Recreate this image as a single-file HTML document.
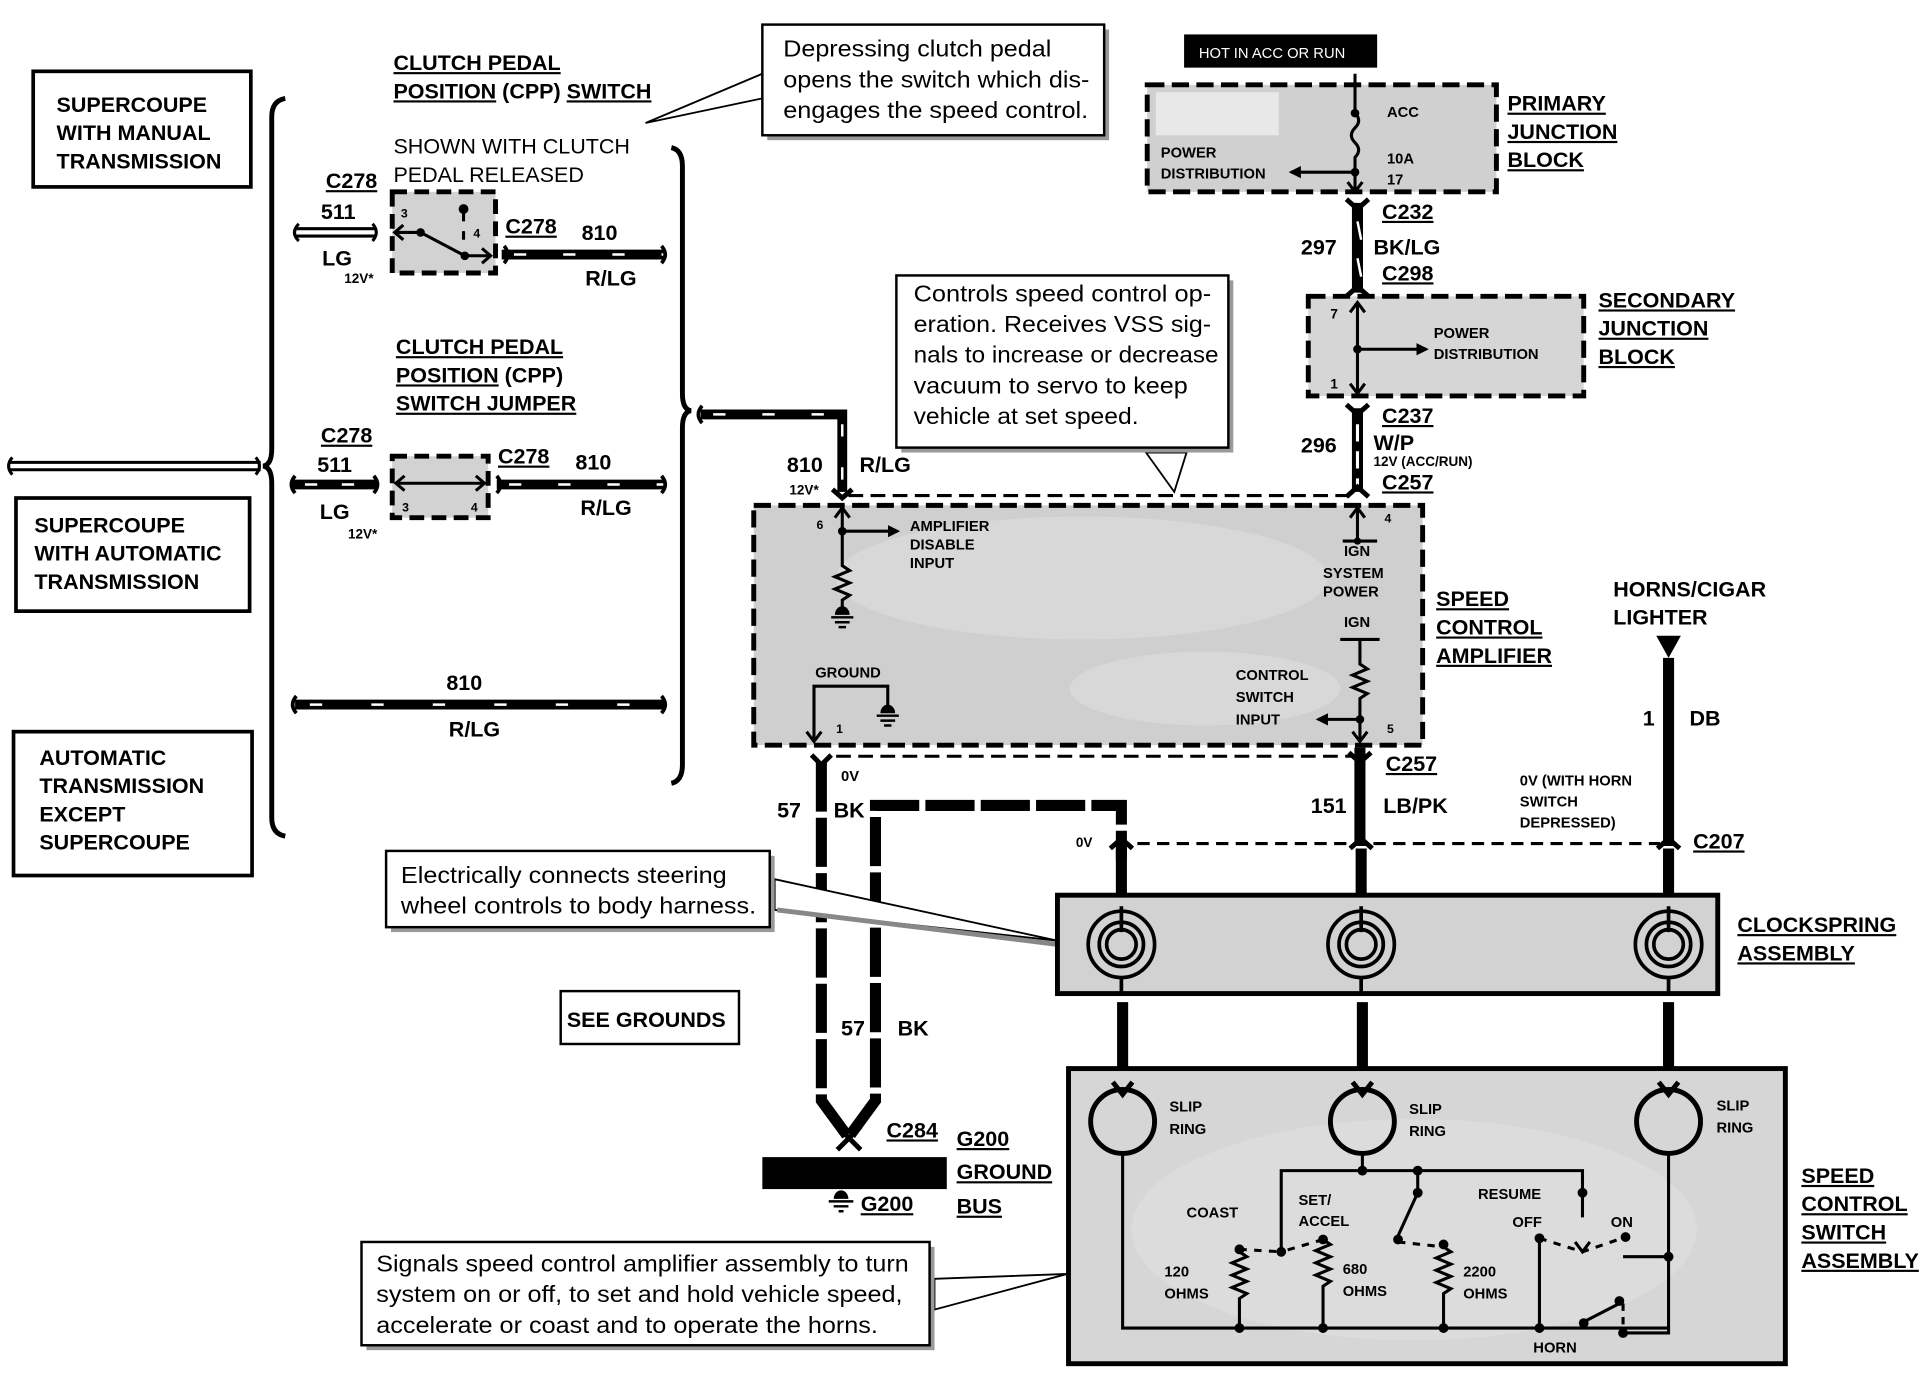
<!DOCTYPE html>
<html><head><meta charset="utf-8"><style>
html,body{margin:0;padding:0;background:#fff;}
svg{display:block}
text{font-family:"Liberation Sans",Arial,sans-serif;font-weight:bold;fill:#000}
.n{font-weight:normal}
.u{text-decoration:underline}
</style></head><body>
<svg width="1928" height="1376" viewBox="0 0 1568 1119" preserveAspectRatio="none" xmlns="http://www.w3.org/2000/svg">
<defs>
<marker id="ar" markerWidth="10" markerHeight="10" refX="8" refY="5" orient="auto" markerUnits="userSpaceOnUse"><path d="M0,0 L10,5 L0,10 Z" fill="#000"/></marker>
</defs>
<rect width="1568" height="1119" fill="#fff"/>

<!-- left boxes -->
<rect x="27" y="58" width="177" height="94" fill="#fff" stroke="#000" stroke-width="3"/>
<text x="46" y="91" font-size="17.5">SUPERCOUPE</text>
<text x="46" y="114" font-size="17.5">WITH MANUAL</text>
<text x="46" y="137" font-size="17.5">TRANSMISSION</text>
<rect x="13" y="405" width="190" height="92" fill="#fff" stroke="#000" stroke-width="3"/>
<text x="28" y="433" font-size="17.5">SUPERCOUPE</text>
<text x="28" y="456" font-size="17.5">WITH AUTOMATIC</text>
<text x="28" y="479" font-size="17.5">TRANSMISSION</text>
<rect x="11" y="595" width="194" height="117" fill="#fff" stroke="#000" stroke-width="3"/>
<text x="32" y="622" font-size="17.5">AUTOMATIC</text>
<text x="32" y="645" font-size="17.5">TRANSMISSION</text>
<text x="32" y="668" font-size="17.5">EXCEPT</text>
<text x="32" y="691" font-size="17.5">SUPERCOUPE</text>

<path d="M8,376 L212,376 M8,382 L212,382" stroke="#000" stroke-width="2.5"/>
<path d="M10,372 q-6,7 0,14 M208,372 q6,7 0,14" stroke="#000" stroke-width="2.5" fill="none"/>
<path d="M232,80 Q221,82 221,95 L221,365 Q221,378 214,379 Q221,380 221,393 L221,665 Q221,678 232,680" fill="none" stroke="#000" stroke-width="4"/>
<path d="M546,120 Q555,122 555,135 L555,320 Q555,333 562,334 Q555,335 555,348 L555,622 Q555,635 546,637" fill="none" stroke="#000" stroke-width="4"/>

<text x="320" y="57" font-size="17.5" class="u">CLUTCH PEDAL</text>
<text x="320" y="80" font-size="17.5"><tspan class="u">POSITION</tspan> (CPP) <tspan class="u">SWITCH</tspan></text>
<text x="320" y="125" font-size="17.5" class="n">SHOWN WITH CLUTCH</text>
<text x="320" y="148" font-size="17.5" class="n">PEDAL RELEASED</text>
<text x="322" y="288" font-size="17.5" class="u">CLUTCH PEDAL</text>
<text x="322" y="311" font-size="17.5"><tspan class="u">POSITION</tspan> (CPP)</text>
<text x="322" y="334" font-size="17.5" class="u">SWITCH JUMPER</text>

<text x="265" y="153" font-size="17.5" class="u">C278</text>
<text x="261" y="178" font-size="17.5">511</text>
<text x="262" y="216" font-size="17.5">LG</text>
<text x="280" y="230" font-size="11">12V*</text>
<path d="M240,186 L306,186 M240,192 L306,192" stroke="#000" stroke-width="2.5"/>
<path d="M243,182 q-7,7 0,14 M303,182 q6,7 0,14" stroke="#000" stroke-width="2.5" fill="none"/>
<rect x="319" y="156" width="84" height="66" fill="#d2d2d2" stroke="#000" stroke-width="4" stroke-dasharray="12 6"/>
<text x="326" y="177" font-size="10">3</text><text x="385" y="193" font-size="10">4</text>
<path d="M322,189 L342,189 L378,208 L398,208" stroke="#000" stroke-width="2.5" fill="none"/>
<path d="M328,183 L321,189 L328,195" stroke="#000" stroke-width="2.5" fill="none"/>
<path d="M392,202 L399,208 L392,214" stroke="#000" stroke-width="2.5" fill="none"/>
<circle cx="342" cy="189" r="3.5"/><circle cx="378" cy="208" r="3.5"/><circle cx="377" cy="170" r="4"/>
<path d="M377,170 L377,180 M377,188 L377,195" stroke="#000" stroke-width="2.5"/>
<text x="411" y="190" font-size="17.5" class="u">C278</text>
<text x="473" y="195" font-size="17.5">810</text>
<text x="476" y="232" font-size="17.5">R/LG</text>
<path d="M408,207 L540,207" stroke="#000" stroke-width="8"/><path d="M418,207 L540,207" stroke="#fff" stroke-width="2" stroke-dasharray="10 30"/>
<path d="M410,200 q6,7 0,14 M538,200 q6,7 0,14" stroke="#000" stroke-width="3" fill="none"/>

<text x="261" y="360" font-size="17.5" class="u">C278</text>
<text x="258" y="384" font-size="17.5">511</text>
<text x="260" y="422" font-size="17.5">LG</text>
<text x="283" y="438" font-size="11">12V*</text>
<path d="M238,394 L306,394" stroke="#000" stroke-width="8"/><path d="M248,394 L306,394" stroke="#fff" stroke-width="2" stroke-dasharray="10 20"/>
<path d="M240,387 q-6,7 0,14 M304,387 q6,7 0,14" stroke="#000" stroke-width="3" fill="none"/>
<rect x="319" y="371" width="78" height="50" fill="#d2d2d2" stroke="#000" stroke-width="4" stroke-dasharray="12 6"/>
<path d="M322,393 L394,393" stroke="#000" stroke-width="2.5"/>
<path d="M329,387 L322,393 L329,399 M387,387 L394,393 L387,399" stroke="#000" stroke-width="2.5" fill="none"/>
<text x="327" y="416" font-size="10">3</text><text x="383" y="416" font-size="10">4</text>
<text x="405" y="377" font-size="17.5" class="u">C278</text>
<text x="468" y="382" font-size="17.5">810</text>
<text x="472" y="419" font-size="17.5">R/LG</text>
<path d="M404,394 L540,394" stroke="#000" stroke-width="8"/><path d="M414,394 L540,394" stroke="#fff" stroke-width="2" stroke-dasharray="10 30"/>
<path d="M404,387 q6,7 0,14 M538,387 q6,7 0,14" stroke="#000" stroke-width="3" fill="none"/>

<text x="363" y="561" font-size="17.5">810</text>
<text x="365" y="599" font-size="17.5">R/LG</text>
<path d="M240,573 L540,573" stroke="#000" stroke-width="8"/><path d="M252,573 L540,573" stroke="#fff" stroke-width="2" stroke-dasharray="10 40"/>
<path d="M241,566 q-6,7 0,14 M538,566 q6,7 0,14" stroke="#000" stroke-width="3" fill="none"/>

<path d="M570,337 L685,337 L685,400" stroke="#000" stroke-width="8" fill="none"/>
<path d="M580,337 L680,337" stroke="#fff" stroke-width="2" stroke-dasharray="10 30"/>
<path d="M685,345 L685,395" stroke="#fff" stroke-width="2" stroke-dasharray="10 25"/>
<path d="M571,330 q-6,7 0,14" stroke="#000" stroke-width="3" fill="none"/>
<path d="M677,398 L685,405 L693,398" stroke="#000" stroke-width="4" fill="none"/>
<text x="640" y="384" font-size="17.5">810</text>
<text x="642" y="402" font-size="11">12V*</text>
<text x="699" y="384" font-size="17.5">R/LG</text>

<!-- callout 1 -->
<polygon points="620,60 525,100 620,80" fill="#fff" stroke="#000" stroke-width="1.5"/>
<rect x="624" y="24" width="278" height="90" fill="#999"/>
<rect x="620" y="20" width="278" height="90" fill="#fff" stroke="#000" stroke-width="2"/>
<text x="637" y="46" font-size="18.5" class="n" textLength="218" lengthAdjust="spacingAndGlyphs">Depressing clutch pedal</text>
<text x="637" y="71" font-size="18.5" class="n" textLength="249" lengthAdjust="spacingAndGlyphs">opens the switch which dis-</text>
<text x="637" y="96" font-size="18.5" class="n" textLength="248" lengthAdjust="spacingAndGlyphs">engages the speed control.</text>

<!-- callout 2 -->
<polygon points="932,368 955,400 965,368" fill="#fff" stroke="#000" stroke-width="1.5"/>
<rect x="733" y="228" width="270" height="140" fill="#999"/>
<rect x="729" y="224" width="270" height="140" fill="#fff" stroke="#000" stroke-width="2"/>
<text x="743" y="245" font-size="18.5" class="n" textLength="242" lengthAdjust="spacingAndGlyphs">Controls speed control op-</text>
<text x="743" y="270" font-size="18.5" class="n" textLength="242" lengthAdjust="spacingAndGlyphs">eration.  Receives VSS sig-</text>
<text x="743" y="295" font-size="18.5" class="n" textLength="248" lengthAdjust="spacingAndGlyphs">nals to increase or decrease</text>
<text x="743" y="320" font-size="18.5" class="n" textLength="223" lengthAdjust="spacingAndGlyphs">vacuum to servo to keep</text>
<text x="743" y="345" font-size="18.5" class="n" textLength="183" lengthAdjust="spacingAndGlyphs">vehicle at set speed.</text>

<rect x="963" y="28" width="157" height="27" fill="#000"/>
<text x="975" y="47" font-size="12" class="n" style="fill:#fff">HOT IN ACC OR RUN</text>

<!-- primary junction block -->
<rect x="933" y="69" width="284" height="87" fill="#d0d0d0" stroke="#000" stroke-width="4" stroke-dasharray="14 6"/>
<rect x="940" y="75" width="100" height="35" fill="#e8e8e8"/>
<path d="M1102,60 L1102,92 q6,6 0,12 q-6,6 0,12 q6,6 0,12 L1102,155" stroke="#000" stroke-width="2.5" fill="none"/>
<circle cx="1102" cy="92" r="3.5"/><circle cx="1102" cy="140" r="3.5"/>
<path d="M1102,140 L1050,140" stroke="#000" stroke-width="2.5" marker-end="url(#ar)"/>
<text x="1128" y="95" font-size="12">ACC</text>
<text x="1128" y="133" font-size="12">10A</text>
<text x="1128" y="150" font-size="12">17</text>
<text x="944" y="128" font-size="12">POWER</text>
<text x="944" y="145" font-size="12">DISTRIBUTION</text>
<text x="1226" y="90" font-size="17.5" class="u">PRIMARY</text>
<text x="1226" y="113" font-size="17.5" class="u">JUNCTION</text>
<text x="1226" y="136" font-size="17.5" class="u">BLOCK</text>

<path d="M1104,165 L1104,238" stroke="#000" stroke-width="9"/>
<path d="M1104,180 L1107,195 M1104,210 L1107,225" stroke="#fff" stroke-width="2"/>
<path d="M1095,162 L1104,170 L1113,162 M1095,241 L1104,233 L1113,241" stroke="#000" stroke-width="4" fill="none"/>
<path d="M1096,148 L1102,156 L1108,148" stroke="#000" stroke-width="2.5" fill="none"/>
<text x="1124" y="178" font-size="17.5" class="u">C232</text>
<text x="1058" y="207" font-size="17.5">297</text>
<text x="1117" y="207" font-size="17.5">BK/LG</text>
<text x="1124" y="228" font-size="17.5" class="u">C298</text>

<rect x="1064" y="241" width="224" height="81" fill="#d6d6d6" stroke="#000" stroke-width="4" stroke-dasharray="14 6"/>
<path d="M1104,246 L1104,320" stroke="#000" stroke-width="2.5"/>
<path d="M1098,254 L1104,246 L1110,254 M1098,312 L1104,320 L1110,312" stroke="#000" stroke-width="2.5" fill="none"/>
<circle cx="1104" cy="284" r="3.5"/>
<path d="M1104,284 L1160,284" stroke="#000" stroke-width="2.5" marker-end="url(#ar)"/>
<text x="1082" y="259" font-size="11">7</text><text x="1082" y="316" font-size="11">1</text>
<text x="1166" y="275" font-size="12">POWER</text>
<text x="1166" y="292" font-size="12">DISTRIBUTION</text>
<text x="1300" y="250" font-size="17.5" class="u">SECONDARY</text>
<text x="1300" y="273" font-size="17.5" class="u">JUNCTION</text>
<text x="1300" y="296" font-size="17.5" class="u">BLOCK</text>

<path d="M1104,332 L1104,400" stroke="#000" stroke-width="9"/>
<path d="M1104,345 L1104,395" stroke="#fff" stroke-width="2.5" stroke-dasharray="14 8"/>
<path d="M1095,329 L1104,337 L1113,329 M1095,404 L1104,396 L1113,404" stroke="#000" stroke-width="4" fill="none"/>
<text x="1124" y="344" font-size="17.5" class="u">C237</text>
<text x="1058" y="368" font-size="17.5">296</text>
<text x="1117" y="366" font-size="17.5">W/P</text>
<text x="1117" y="379" font-size="11">12V (ACC/RUN)</text>
<text x="1124" y="398" font-size="17.5" class="u">C257</text>
<path d="M690,403 L1100,403" stroke="#000" stroke-width="2.5" stroke-dasharray="12 6"/>

<!-- amplifier -->
<rect x="613" y="411" width="544" height="195" fill="#cfcfcf" stroke="#000" stroke-width="4" stroke-dasharray="14 6"/>
<ellipse cx="880" cy="470" rx="200" ry="50" fill="#dedede" opacity="0.6"/>
<ellipse cx="980" cy="560" rx="110" ry="30" fill="#dedede" opacity="0.6"/>
<path d="M685,413 L685,460 l6,4 l-12,5 l12,5 l-12,5 l12,5 l-6,4 L685,496" stroke="#000" stroke-width="2.5" fill="none"/>
<path d="M679,421 L685,413 L691,421" stroke="#000" stroke-width="2.5" fill="none"/>
<circle cx="685" cy="432" r="3.5"/>
<path d="M685,432 L730,432" stroke="#000" stroke-width="2.5" marker-end="url(#ar)"/>
<path d="M679,500 a6,7 0 0 1 12,0 z" fill="#000"/>
<path d="M676,502 L694,502 M679,506 L691,506 M682,510 L688,510" stroke="#000" stroke-width="2"/>
<text x="664" y="430" font-size="10">6</text>
<text x="740" y="432" font-size="12">AMPLIFIER</text>
<text x="740" y="447" font-size="12">DISABLE</text>
<text x="740" y="462" font-size="12">INPUT</text>
<text x="663" y="551" font-size="12">GROUND</text>
<path d="M662,603 L662,558 L722,558 L722,575" stroke="#000" stroke-width="2.5" fill="none"/>
<path d="M656,595 L662,603 L668,595" stroke="#000" stroke-width="2.5" fill="none"/>
<path d="M716,580 a6,7 0 0 1 12,0 z" fill="#000"/>
<path d="M713,582 L731,582 M716,586 L728,586 M719,590 L725,590" stroke="#000" stroke-width="2"/>
<text x="680" y="596" font-size="10">1</text>

<path d="M1104,413 L1104,440" stroke="#000" stroke-width="2.5"/>
<path d="M1098,421 L1104,413 L1110,421" stroke="#000" stroke-width="2.5" fill="none"/>
<path d="M1092,440 L1120,440" stroke="#000" stroke-width="2.5"/><circle cx="1104" cy="440" r="3"/>
<text x="1126" y="425" font-size="10">4</text>
<text x="1093" y="452" font-size="12">IGN</text>
<text x="1076" y="470" font-size="12">SYSTEM</text>
<text x="1076" y="485" font-size="12">POWER</text>
<text x="1093" y="510" font-size="12">IGN</text>
<path d="M1090,520 L1122,520" stroke="#000" stroke-width="2.5"/>
<path d="M1106,520 L1106,540 l6,4 l-12,5 l12,5 l-12,5 l12,5 l-6,4 L1106,603" stroke="#000" stroke-width="2.5" fill="none"/>
<circle cx="1106" cy="585" r="3.5"/>
<path d="M1106,585 L1072,585" stroke="#000" stroke-width="2.5" marker-end="url(#ar)"/>
<path d="M1100,595 L1106,603 L1112,595" stroke="#000" stroke-width="2.5" fill="none"/>
<text x="1128" y="596" font-size="10">5</text>
<text x="1005" y="553" font-size="12">CONTROL</text>
<text x="1005" y="571" font-size="12">SWITCH</text>
<text x="1005" y="589" font-size="12">INPUT</text>
<text x="1168" y="493" font-size="17.5" class="u">SPEED</text>
<text x="1168" y="516" font-size="17.5" class="u">CONTROL</text>
<text x="1168" y="539" font-size="17.5" class="u">AMPLIFIER</text>

<path d="M680,615 L1100,615" stroke="#000" stroke-width="2.5" stroke-dasharray="12 6"/>

<!-- 57 BK -->
<path d="M660,614 L668,622 L676,614" stroke="#000" stroke-width="4" fill="none"/>
<path d="M668,620 L668,895 L690,925 L712,895 L712,655 L912,655 L912,700" stroke="#000" stroke-width="9" fill="none" stroke-dasharray="40 5"/>
<text x="684" y="635" font-size="12">0V</text>
<text x="632" y="665" font-size="17.5">57</text>
<text x="678" y="665" font-size="17.5">BK</text>
<text x="684" y="842" font-size="17.5">57</text>
<text x="730" y="842" font-size="17.5">BK</text>
<path d="M681,935 L700,916 M681,916 L700,935" stroke="#000" stroke-width="4"/>
<text x="721" y="925" font-size="17.5" class="u">C284</text>
<rect x="620" y="941" width="150" height="26" fill="#000"/>
<path d="M678,975 a6,7 0 0 1 12,0 z" fill="#000"/>
<path d="M674,977 L694,977 M678,981 L690,981 M682,985 L686,985" stroke="#000" stroke-width="2"/>
<text x="700" y="985" font-size="17.5" class="u">G200</text>
<text x="778" y="932" font-size="17.5" class="u">G200</text>
<text x="778" y="959" font-size="17.5" class="u">GROUND</text>
<text x="778" y="987" font-size="17.5" class="u">BUS</text>

<rect x="456" y="806" width="145" height="43" fill="#fff" stroke="#000" stroke-width="2"/>
<text x="461" y="835" font-size="17.5">SEE GROUNDS</text>

<path d="M925,686 L1350,686" stroke="#000" stroke-width="2.5" stroke-dasharray="10 6"/>
<path d="M903,690 L912,682 L921,690 M1098,690 L1107,682 L1116,690 M1348,690 L1357,682 L1366,690" stroke="#000" stroke-width="4" fill="none"/>
<text x="875" y="689" font-size="11">0V</text>

<path d="M1106,608 L1106,688" stroke="#000" stroke-width="9"/>
<path d="M1097,612 L1106,620 L1115,612" stroke="#000" stroke-width="4" fill="none"/>
<text x="1127" y="627" font-size="17.5" class="u">C257</text>
<text x="1066" y="661" font-size="17.5">151</text>
<text x="1125" y="661" font-size="17.5">LB/PK</text>

<text x="1312" y="485" font-size="17.5">HORNS/CIGAR</text>
<text x="1312" y="508" font-size="17.5">LIGHTER</text>
<path d="M1347,517 L1367,517 L1357,535 Z" fill="#000"/>
<path d="M1357,535 L1357,688" stroke="#000" stroke-width="9"/>
<text x="1336" y="590" font-size="17.5">1</text>
<text x="1374" y="590" font-size="17.5">DB</text>
<text x="1236" y="639" font-size="12">0V (WITH HORN</text>
<text x="1236" y="656" font-size="12">SWITCH</text>
<text x="1236" y="673" font-size="12">DEPRESSED)</text>
<text x="1377" y="690" font-size="17.5" class="u">C207</text>

<path d="M912,690 L912,735 M1107,690 L1107,735 M1357,690 L1357,735" stroke="#000" stroke-width="9"/>

<!-- callout 3 -->
<polygon points="630,715 860,765 630,740" fill="#fff" stroke="#000" stroke-width="1.5"/>
<path d="M632,740 L860,768" stroke="#888" stroke-width="4"/>
<rect x="318" y="696" width="312" height="62" fill="#999"/>
<rect x="314" y="692" width="312" height="62" fill="#fff" stroke="#000" stroke-width="2"/>
<text x="326" y="718" font-size="18.5" class="n" textLength="265" lengthAdjust="spacingAndGlyphs">Electrically connects steering</text>
<text x="326" y="743" font-size="18.5" class="n" textLength="289" lengthAdjust="spacingAndGlyphs">wheel controls to body harness.</text>

<!-- clockspring -->
<rect x="860" y="728" width="537" height="80" fill="#d2d2d2" stroke="#000" stroke-width="4"/>
<g fill="none" stroke="#000" stroke-width="3">
<circle cx="912" cy="768" r="27"/><circle cx="912" cy="768" r="18"/><circle cx="912" cy="768" r="12"/>
<circle cx="1107" cy="768" r="27"/><circle cx="1107" cy="768" r="18"/><circle cx="1107" cy="768" r="12"/>
<circle cx="1357" cy="768" r="27"/><circle cx="1357" cy="768" r="18"/><circle cx="1357" cy="768" r="12"/>
</g>
<path d="M912,737 L912,758 M1107,737 L1107,758 M1357,737 L1357,758 M912,795 L912,808 M1107,795 L1107,808 M1357,795 L1357,808" stroke="#000" stroke-width="3"/>
<text x="1413" y="758" font-size="17.5" class="u">CLOCKSPRING</text>
<text x="1413" y="781" font-size="17.5" class="u">ASSEMBLY</text>

<path d="M913,815 L913,880 M1108,815 L1108,880 M1357,815 L1357,880" stroke="#000" stroke-width="9"/>

<!-- switch assembly -->
<rect x="869" y="869" width="583" height="240" fill="#d6d6d6" stroke="#000" stroke-width="4"/>
<ellipse cx="1150" cy="1000" rx="230" ry="90" fill="#e2e2e2" opacity="0.5"/>
<g fill="none" stroke="#000" stroke-width="4">
<circle cx="913" cy="912" r="26"/><circle cx="1108" cy="912" r="26"/><circle cx="1357" cy="912" r="26"/>
</g>
<path d="M905,880 L913,890 L921,880 M1100,880 L1108,890 L1116,880 M1349,880 L1357,890 L1365,880" stroke="#000" stroke-width="4" fill="none"/>
<text x="951" y="904" font-size="12">SLIP</text><text x="951" y="922" font-size="12">RING</text>
<text x="1146" y="906" font-size="12">SLIP</text><text x="1146" y="924" font-size="12">RING</text>
<text x="1396" y="903" font-size="12">SLIP</text><text x="1396" y="921" font-size="12">RING</text>
<g stroke="#000" stroke-width="2.5" fill="none">
<path d="M913,938 L913,1080 L1358,1080"/>
<path d="M1108,938 L1108,952"/>
<path d="M1042,1018 L1042,952 L1287,952 L1287,990"/>
<path d="M1153,952 L1153,970 L1137,1005"/>
<path d="M1357,938 L1357,1022 L1320,1022"/>
<path d="M1357,1022 L1357,1084 L1320,1084"/>
<path d="M1008,1018 l6,4 l-12,5 l12,5 l-12,5 l12,5 l-12,5 l12,5 l-6,4 L1008,1080"/>
<path d="M1076,1008 l6,4 l-12,5 l12,5 l-12,5 l12,5 l-12,5 l12,5 l-6,4 L1076,1080"/>
<path d="M1174,1014 l6,4 l-12,5 l12,5 l-12,5 l12,5 l-12,5 l12,5 l-6,4 L1174,1080"/>
<path d="M1252,1007 L1252,1080"/>
<path d="M1288,1075 L1317,1060"/>
<path d="M1008,1016 L1042,1018 M1076,1008 L1042,1018 M1137,1010 L1174,1014 M1252,1007 L1287,1018 L1322,1006" stroke-dasharray="6 6"/>
<path d="M1320,1060 L1320,1084" stroke-dasharray="6 5"/>
</g>
<path d="M1281,1010 L1287,1018 L1293,1010" stroke="#000" stroke-width="2.5" fill="none"/>
<g fill="#000">
<circle cx="1108" cy="952" r="4"/><circle cx="1153" cy="952" r="4"/><circle cx="1153" cy="970" r="4"/><circle cx="1287" cy="970" r="4"/>
<circle cx="1042" cy="1018" r="4"/><circle cx="1008" cy="1016" r="4"/><circle cx="1076" cy="1008" r="4"/><circle cx="1137" cy="1008" r="4"/><circle cx="1174" cy="1012" r="4"/>
<circle cx="1252" cy="1007" r="4"/><circle cx="1322" cy="1006" r="4"/><circle cx="1357" cy="1022" r="4"/>
<circle cx="1008" cy="1080" r="4"/><circle cx="1076" cy="1080" r="4"/><circle cx="1174" cy="1080" r="4"/><circle cx="1252" cy="1080" r="4"/><circle cx="1288" cy="1076" r="4"/><circle cx="1317" cy="1058" r="4"/><circle cx="1320" cy="1084" r="4"/>
</g>
<text x="965" y="990" font-size="12">COAST</text>
<text x="1056" y="980" font-size="12">SET/</text><text x="1056" y="997" font-size="12">ACCEL</text>
<text x="1202" y="975" font-size="12">RESUME</text>
<text x="1230" y="998" font-size="12">OFF</text>
<text x="1310" y="998" font-size="12">ON</text>
<text x="947" y="1038" font-size="12">120</text><text x="947" y="1056" font-size="12">OHMS</text>
<text x="1092" y="1036" font-size="12">680</text><text x="1092" y="1054" font-size="12">OHMS</text>
<text x="1190" y="1038" font-size="12">2200</text><text x="1190" y="1056" font-size="12">OHMS</text>
<text x="1247" y="1100" font-size="12">HORN</text>
<text x="1465" y="962" font-size="17.5" class="u">SPEED</text>
<text x="1465" y="985" font-size="17.5" class="u">CONTROL</text>
<text x="1465" y="1008" font-size="17.5" class="u">SWITCH</text>
<text x="1465" y="1031" font-size="17.5" class="u">ASSEMBLY</text>

<!-- callout 4 -->
<polygon points="760,1040 868,1036 760,1065" fill="#fff" stroke="#000" stroke-width="1.5"/>
<rect x="298" y="1014" width="462" height="84" fill="#999"/>
<rect x="294" y="1010" width="462" height="84" fill="#fff" stroke="#000" stroke-width="2"/>
<text x="306" y="1034" font-size="18.5" class="n" textLength="433" lengthAdjust="spacingAndGlyphs">Signals speed control amplifier assembly to turn</text>
<text x="306" y="1059" font-size="18.5" class="n" textLength="428" lengthAdjust="spacingAndGlyphs">system on or off, to set and hold vehicle speed,</text>
<text x="306" y="1084" font-size="18.5" class="n" textLength="408" lengthAdjust="spacingAndGlyphs">accelerate or coast and to operate the horns.</text>
</svg>
</body></html>
